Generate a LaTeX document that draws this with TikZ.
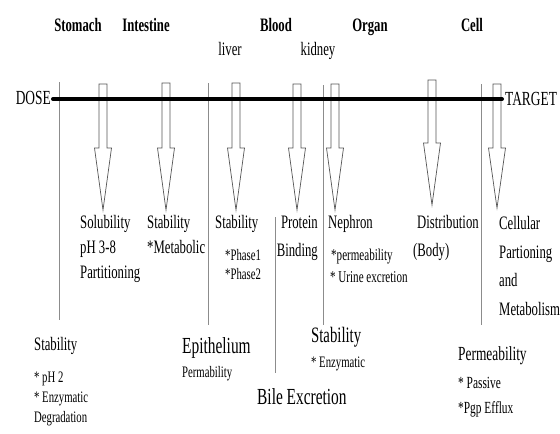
\documentclass[tikz,border=0pt]{standalone}
\usepackage{fontspec}
\setmainfont{Liberation Serif}[FakeStretch=0.67]
\usetikzlibrary{positioning}
\definecolor{linegray}{HTML}{8C8C8C}
\definecolor{arrowgray}{HTML}{555555}

\begin{document}
\begin{tikzpicture}[x=1pt,y=-1pt,
  organ/.style={anchor=base,inner sep=0,font=\bfseries\fontsize{19}{19}\selectfont},
  lbl/.style={anchor=base west,inner sep=0,font=\fontsize{19}{19}\selectfont},
  sub/.style={lbl,font=\fontsize{16}{16}\selectfont},
  big/.style={lbl,font=\fontsize{23}{23}\selectfont},
  divider/.style={linegray,line width=0.8pt},
  flowarrow/.style={arrowgray,line width=0.7pt,line join=miter}]
  \useasboundingbox[fill=white](0,0)rectangle(560,434);
  % compartimentos
  \node[organ] (stomach) at (78,31){Stomach};
  \node[organ] (intestine) at (146,31){Intestine};
  \node[organ] (blood) at (276,31){Blood};
  \node[organ] (organ) at (370,31){Organ};
  \node[organ] (cell) at (472,31){Cell};
  \node[lbl,anchor=base] (liver) at (230,55){liver};
  \node[lbl,anchor=base] (kidney) at (318,55){kidney};
  % separadores
  \draw[divider](59,82)--(59,320);
  \draw[divider](208,83)--(208,325);
  \draw[divider](275,217)--(275,373);
  \draw[divider](323,85)--(323,325);
  \draw[divider](481,84)--(481,325);
  % flechas huecas
  \foreach \x/\t/\h/\b in {103/84/148/210,166/83/148/210,236/83/148/210,
      297/84/148/210,335/84/148/210,432/80/143/205,497/84/148/208}
    \draw[flowarrow](\x-4,\t)--(\x+4,\t)--(\x+4,\h)--(\x+8.5,\h)
      --(\x,\b)--(\x-8.5,\h)--(\x-4,\h)--cycle;
  % eje dosis - diana
  \node[lbl,anchor=base east,font=\fontsize{20}{20}\selectfont] (dose) at (51,104){DOSE};
  \node[lbl,font=\fontsize{20}{20}\selectfont] (target) at (505,105){TARGET};
  \draw[line width=4pt,line cap=round]
    ([shift={(2,-5)}]dose.base east)--([shift={(-3,-6)}]target.base west);
  % propiedades bajo las flechas
  \node[lbl] (sol) at (80,228){Solubility};
  \node[lbl] (ph) at (80,253){pH 3-8};
  \node[lbl] (part) at (80,278){Partitioning};
  \node[lbl] (stabint) at (147,228){Stability};
  \node[lbl] (metab) at (147,253){*Metabolic};
  \node[lbl] (stabliv) at (215,228){Stability};
  \node[sub] (ph1) at (225,260){*Phase1};
  \node[sub] (ph2) at (225,279){*Phase2};
  \node[lbl,anchor=base east] (prot) at (318,228){Protein};
  \node[lbl,anchor=base east] (bind) at (318,256){Binding};
  \node[lbl] (neph) at (328,228){Nephron};
  \node[sub,font=\fontsize{16.5}{16.5}\selectfont] (perm) at (331,260){*permeability};
  \node[sub,font=\fontsize{16.5}{16.5}\selectfont] (urine) at (330,282){* Urine excretion};
  \node[lbl] (dist) at (417,228){Distribution};
  \node[lbl] (body) at (413,256){(Body)};
  \node[lbl] (cellu) at (499,229){Cellular};
  \node[lbl] (parti) at (499,258){Partioning};
  \node[lbl] (and) at (499,286){and};
  \node[lbl] (metabo) at (499,315){Metabolism};
  % propiedades de las barreras
  \node[lbl] (stabsto) at (34,350){Stability};
  \node[sub] (ph2s) at (34,382){* pH 2};
  \node[sub] (enz) at (34,402){* Enzymatic};
  \node[sub] (degr) at (34,422){Degradation};
  \node[big] (epi) at (182,353){Epithelium};
  \node[sub] (permab) at (182,377){Permability};
  \node[big] (bile) at (257,404){Bile Excretion};
  \node[lbl,font=\fontsize{22}{22}\selectfont] (stabkid) at (311,342){Stability};
  \node[sub] (enzk) at (311,367){* Enzymatic};
  \node[lbl,font=\fontsize{20}{20}\selectfont] (permc) at (458,360){Permeability};
  \node[sub,font=\fontsize{17}{17}\selectfont] (pass) at (458,388){* Passive};
  \node[sub,font=\fontsize{17}{17}\selectfont] (pgp) at (458,413){*Pgp Efflux};
\end{tikzpicture}
\end{document}
